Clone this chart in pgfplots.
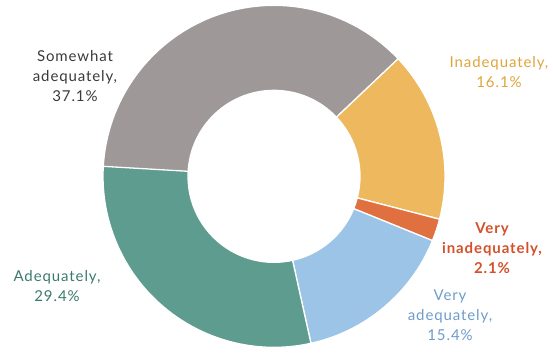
\documentclass[border=0pt]{standalone}
\usepackage{pgfplots}
\pgfplotsset{compat=1.18}
\usepackage{pgfplotstable}
\usepackage{fontspec}
\setmainfont{Lato}[LetterSpace=6]

\definecolor{cGray}{HTML}{9F9899}
\definecolor{cYellow}{HTML}{EDB85E}
\definecolor{cRed}{HTML}{E0703F}
\definecolor{cBlue}{HTML}{9CC4E6}
\definecolor{cGreen}{HTML}{5E9C8F}
\definecolor{tGray}{HTML}{3A3A3A}
\definecolor{tYellow}{HTML}{DDA53C}
\definecolor{tRed}{HTML}{D4502A}
\definecolor{tBlue}{HTML}{6E9CCB}
\definecolor{tGreen}{HTML}{3D7A6E}

\tikzset{lab/.style={align=center, font={\fontsize{15bp}{20bp}\selectfont}}}

% shares in percent, clockwise from the left
\pgfplotstableread{
name value
somewhat 37.1
inadequately 16.1
veryinadequately 2.1
veryadequately 15.4
adequately 29.4
}\donutdata

\def\startangle{177}
\pgfmathsetmacro\aA{\startangle}
\pgfplotstablegetelem{0}{value}\of\donutdata
\pgfmathsetmacro\aB{\aA-3.6*\pgfplotsretval}
\pgfplotstablegetelem{1}{value}\of\donutdata
\pgfmathsetmacro\aC{\aB-3.6*\pgfplotsretval}
\pgfplotstablegetelem{2}{value}\of\donutdata
\pgfmathsetmacro\aD{\aC-3.6*\pgfplotsretval}
\pgfplotstablegetelem{3}{value}\of\donutdata
\pgfmathsetmacro\aE{\aD-3.6*\pgfplotsretval}
\pgfplotstablegetelem{4}{value}\of\donutdata
\pgfmathsetmacro\aF{\aE-3.6*\pgfplotsretval}

\newcommand\slice[3]{%
  \fill[#1, draw=white, line width=1.3pt]
    ([shift={(#2:171bp)}]axis cs:274,175) arc[start angle=#2, end angle=#3, radius=171bp]
    -- ([shift={(#3:86bp)}]axis cs:274,175) arc[start angle=#3, end angle=#2, radius=86bp]
    -- cycle;}

\begin{document}
\begin{tikzpicture}
\begin{axis}[
    hide axis, scale only axis, clip=false,
    width=553bp, height=349bp,
    xmin=0, xmax=553, ymin=0, ymax=349,
]
\addplot[draw=none] coordinates {(0,0) (553,349)};

\slice{cGray}{\aA}{\aB}
\slice{cYellow}{\aB}{\aC}
\slice{cRed}{\aC}{\aD}
\slice{cBlue}{\aD}{\aE}
\slice{cGreen}{\aE}{\aF}

\node[lab, text=tGray] at (axis cs:75,275) {Somewhat\\adequately,\\37.1\%};
\node[lab, text=tYellow] at (axis cs:499,279) {Inadequately,\\16.1\%};
\node[lab, text=tRed, font={\fontsize{15bp}{20bp}\selectfont\bfseries}] at (axis cs:492,103) {Very\\inadequately,\\2.1\%};
\node[lab, text=tBlue] at (axis cs:450,36) {Very\\adequately,\\15.4\%};
\node[lab, text=tGreen] at (axis cs:57,65) {Adequately,\\29.4\%};
\end{axis}
\end{tikzpicture}
\end{document}
